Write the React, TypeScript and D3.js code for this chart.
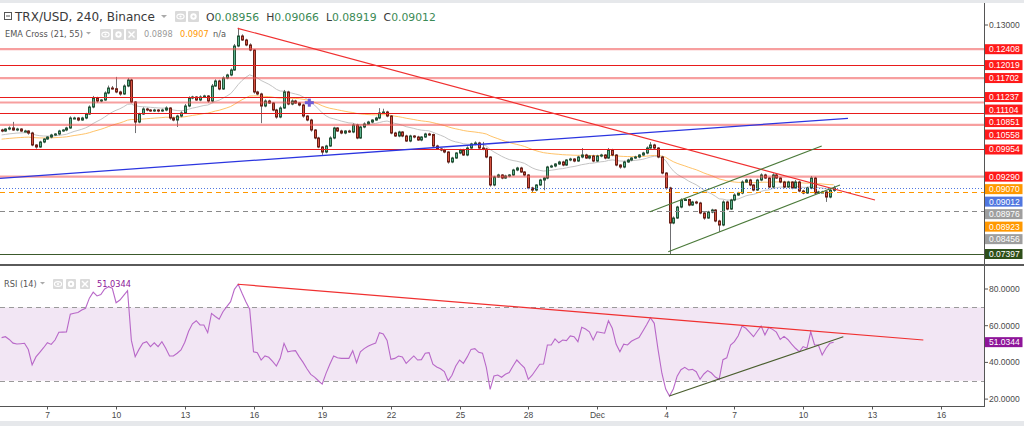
import React from "react";
import * as d3 from "d3";

// ---------------- data ----------------
const startTime = Date.UTC(2018, 10, 5, 0, 0); // first 4h bar (Nov 5)
const barHours = 4;
const firstOpen = 0.10431;

const closes = [
  0.10406, 0.10455, 0.1048, 0.10431, 0.10455, 0.10406, 0.10406, 0.10357, 0.10064, 0.10015,
  0.10137, 0.1021, 0.10259, 0.10308, 0.10333, 0.10406, 0.10431, 0.1048, 0.10724, 0.10724,
  0.10675, 0.10724, 0.10822, 0.10993, 0.11214, 0.1114, 0.11165, 0.11336, 0.11458, 0.1144,
  0.11361, 0.11312, 0.11507, 0.11654, 0.11116, 0.10626, 0.10822, 0.10945, 0.1092, 0.10896,
  0.1092, 0.10896, 0.1092, 0.10969, 0.10724, 0.10675, 0.10773, 0.10847, 0.11018, 0.11214,
  0.11238, 0.11165, 0.11238, 0.11263, 0.1114, 0.11507, 0.1163, 0.11434, 0.11703, 0.11777,
  0.11899, 0.12486, 0.12731, 0.12633, 0.12511, 0.12388, 0.11361, 0.11312, 0.11018, 0.1114,
  0.11091, 0.1092, 0.10749, 0.10969, 0.11361, 0.11067, 0.1114, 0.11091, 0.11042, 0.10773,
  0.10675, 0.10431, 0.10235, 0.10015, 0.09892, 0.10039, 0.10235, 0.1048, 0.10406, 0.10357,
  0.10406, 0.10382, 0.10553, 0.10235, 0.10504, 0.10577, 0.10626, 0.10675, 0.10724, 0.10847,
  0.10871, 0.10773, 0.10357, 0.10284, 0.10382, 0.10284, 0.10161, 0.10284, 0.10259, 0.10186,
  0.10259, 0.10333, 0.1032, 0.10039, 0.09966, 0.09941, 0.09892, 0.09648, 0.09745, 0.09868,
  0.09941, 0.09819, 0.0999, 0.10088, 0.10113, 0.0999, 0.09966, 0.0977, 0.09085, 0.09281,
  0.0933, 0.09256, 0.09305, 0.0933, 0.09452, 0.09501, 0.09403, 0.0933, 0.09012, 0.08962,
  0.09085, 0.09207, 0.09256, 0.09525, 0.0955, 0.09599, 0.09648, 0.09574, 0.09697, 0.09721,
  0.09672, 0.0977, 0.09819, 0.09745, 0.09794, 0.09672, 0.09794, 0.09819, 0.09745, 0.09941,
  0.09819, 0.09574, 0.09525, 0.09648, 0.09697, 0.09745, 0.0977, 0.09819, 0.09868, 0.0999,
  0.10064, 0.0999, 0.0977, 0.09378, 0.09012, 0.08155, 0.08277, 0.08546, 0.08718, 0.0873,
  0.08595, 0.08669, 0.08644, 0.084, 0.08277, 0.08424, 0.08473, 0.08204, 0.08106, 0.08669,
  0.08497, 0.08718, 0.0884, 0.08889, 0.09158, 0.09207, 0.09085, 0.08962, 0.09207, 0.0933,
  0.09256, 0.09036, 0.0933, 0.09256, 0.09158, 0.09036, 0.09158, 0.09012, 0.09158, 0.08938,
  0.08889, 0.09012, 0.09256, 0.08889, 0.08914, 0.08914, 0.08791, 0.08956, 0.09012,
];

// wick extents beyond the body, in units of 0.0001
const upperWick = [
  3, 2, 4, 15, 3, 2, 3, 2, 3, 2,
  3, 2, 2, 3, 2, 3, 2, 3, 4, 3,
  2, 3, 3, 4, 5, 3, 2, 4, 6, 5,
  29, 3, 4, 5, 3, 2, 3, 4, 3, 2,
  3, 2, 3, 4, 2, 3, 3, 4, 5, 4,
  3, 2, 4, 3, 2, 5, 4, 3, 4, 3,
  4, 5, 20, 4, 3, 4, 2, 3, 3, 4,
  3, 2, 3, 4, 5, 3, 4, 3, 2, 3,
  2, 3, 2, 3, 2, 3, 4, 3, 2, 3,
  2, 3, 4, 3, 3, 4, 3, 2, 3, 12,
  8, 3, 2, 3, 3, 2, 3, 3, 2, 3,
  2, 3, 3, 2, 3, 2, 3, 2, 3, 2,
  3, 3, 4, 3, 4, 3, 15, 3, 2, 3,
  3, 2, 3, 2, 3, 3, 3, 2, 2, 3,
  2, 3, 2, 3, 3, 2, 3, 3, 2, 3,
  2, 3, 17, 3, 2, 3, 3, 3, 2, 5,
  3, 2, 2, 3, 3, 2, 3, 2, 3, 4,
  7, 3, 2, 3, 2, 3, 4, 3, 4, 3,
  2, 3, 3, 3, 2, 3, 3, 2, 3, 4,
  3, 3, 4, 3, 4, 3, 3, 2, 3, 4,
  3, 2, 4, 3, 2, 3, 3, 2, 5, 3,
  3, 3, 5, 3, 3, 3, 2, 3, 5.4,
];
const lowerWick = [
  3, 2, 3, 2, 3, 2, 3, 4, 3, 4,
  2, 3, 2, 3, 2, 3, 2, 3, 2, 3,
  3, 2, 3, 2, 3, 4, 3, 2, 3, 2,
  3, 4, 2, 3, 3, 27, 3, 2, 3, 2,
  2, 3, 2, 3, 4, 3, 17, 3, 2, 3,
  3, 2, 3, 2, 4, 3, 2, 3, 2, 3,
  3, 2, 3, 2, 3, 3, 4, 3, 42, 3,
  2, 3, 4, 3, 2, 3, 3, 2, 3, 4,
  3, 4, 3, 3, 7, 3, 2, 3, 2, 3,
  3, 2, 3, 3, 2, 3, 2, 3, 2, 3,
  2, 3, 3, 2, 3, 3, 2, 3, 3, 2,
  3, 2, 3, 3, 2, 3, 3, 4, 3, 2,
  3, 2, 3, 2, 3, 2, 3, 3, 4, 3,
  2, 3, 2, 3, 2, 3, 2, 3, 3, 6,
  3, 2, 25, 3, 2, 3, 2, 3, 2, 3,
  3, 2, 3, 2, 3, 3, 2, 3, 3, 2,
  3, 3, 4, 3, 2, 3, 2, 3, 2, 3,
  2, 3, 3, 3, 4, 76, 3, 2, 3, 2,
  3, 2, 3, 3, 4, 2, 3, 3, 17, 3,
  3, 2, 3, 2, 3, 2, 3, 3, 2, 3,
  2, 3, 3, 2, 3, 3, 2, 3, 2, 3,
  3, 2, 3, 3, 2, 2, 12, 3, 3.7,
];

const rsi14 = [
  53.5, 54, 52.5, 50.5, 50, 50.2, 50.4, 47, 38.6, 43,
  45.5, 48, 50.7, 49.8, 52.2, 56.4, 56.5, 56.6, 66.3, 66.8,
  67.2, 68.5, 69.5, 75, 78.3, 76.2, 77, 80, 81.2, 80.4,
  72.5, 74, 76.5, 79.1, 52, 43.1, 47.1, 50.5, 51.3, 48.6,
  50.7, 48.6, 51.3, 47.7, 43.5, 43.5, 45, 46.8, 51, 57,
  61, 62.7, 60.4, 60.4, 56.2, 66.7, 65, 63.5, 67.6, 70.4,
  73.1, 79.8, 82.6, 77.7, 73.1, 69, 45.8, 45.3, 41.3, 43.5,
  42.8, 40.5, 38, 42.2, 50.4, 45.8, 46.2, 46.4, 43, 40,
  36.5, 33.5, 32, 30, 28.2, 34, 39, 43.5, 42.5, 42.2,
  42.2, 42.2, 46.4, 39.8, 45.8, 47.5, 48.8, 49.7, 50.5, 56.2,
  55.5, 52, 41.7, 42.2, 43.5, 43, 39.5, 41.5, 43.5, 41.3,
  41.5, 45, 45.3, 39, 37.5, 36.5, 35, 30, 33, 38,
  41.3, 39.5, 43, 47.1, 47.5, 45.5, 45, 37.3, 25.3, 32.6,
  33.1, 31.9, 33.5, 34.5, 38, 41.3, 39.1, 37, 30.8, 33,
  36, 39, 39.1, 49.5, 49.5, 52.8, 50.7, 52.2, 51.9, 54.4,
  54, 51.3, 59.1, 58.2, 56.7, 52.2, 56.7, 56.3, 55.9, 62.7,
  58.6, 50, 45.8, 49.9, 49.5, 51.5, 52.6, 53.5, 57, 60.5,
  64.3, 61.3, 47, 34.1, 25.5, 21.7, 25.5, 32.5, 36, 37.3,
  35.9, 36.2, 34.9, 30.8, 33.7, 35.5, 34.2, 32, 30.8, 41.5,
  42.5, 49.5, 51.3, 54.5, 59.8, 58.6, 56.4, 54, 57, 59.8,
  55, 59, 58, 56.5, 52.5, 54.2, 52.5, 50, 47.7, 45.8,
  48.6, 47.7, 56.7, 49.5, 49.5, 44, 47.7, 50.4, 51.0344,
];

const ema21Seed = 0.103;
const ema55Seed = 0.102;
const ema21Last = 0.08976;
const ema55Last = 0.0907;

const redLevels = [0.12019, 0.11237, 0.10851, 0.09954];
const pinkLevels = [0.12408, 0.11702, 0.11104, 0.10558, 0.0929];
const supportLevel = 0.07397;
const orangeDashLevel = 0.08923;
const greyDashLevel = 0.08456;

const priceTicks = [0.13];
const rsiTicks = [80, 60, 40, 20];
const rsiBand = [30, 70];
const dateTicks = [
  "2018-11-07", "2018-11-10", "2018-11-13", "2018-11-16", "2018-11-19", "2018-11-22", "2018-11-25",
  "2018-11-28", "2018-12-01", "2018-12-04", "2018-12-07", "2018-12-10", "2018-12-13", "2018-12-16",
];

const priceTrend = [{ t: "2018-11-15T07:25Z", v: 0.12919 }, { t: "2018-12-13T03:20Z", v: 0.08718 }];
const blueTrend = [{ t: "2018-11-04T22:20Z", v: 0.09249 }, { t: "2018-12-11T23:00Z", v: 0.10715 }];
const channelLow = [{ t: "2018-12-04T02:40Z", v: 0.07453 }, { t: "2018-12-11T14:40Z", v: 0.09085 }];
const channelHigh = [{ t: "2018-12-03T07:30Z", v: 0.08432 }, { t: "2018-12-10T19:30Z", v: 0.10039 }];
const rsiTrendHigh = [{ t: "2018-11-15T07:25Z", v: 82.6 }, { t: "2018-12-15T06:00Z", v: 52.2 }];
const rsiTrendLow = [{ t: "2018-12-04T03:50Z", v: 21.7 }, { t: "2018-12-11T18:10Z", v: 54 }];
const crossMark = { t: "2018-11-18T10:30Z", v: 0.11099 };

// ---------------- styling ----------------
const UP_FILL = "#5cb38f";
const UP_BORDER = "#225437";
const DN_FILL = "#d75442";
const DN_BORDER = "#6b1f16";
const WICK = "#6f6f72";
const RED = "#ff1a1a";
const ORANGE = "#ff9800";
const BLUE = "#5077e0";
const GREY = "#9e9e9e";
const DKGREEN = "#2e4f1a";
const PURPLE = "#8e1599";
const AX_FONT = "'Liberation Sans', Arial, sans-serif";
const LG_FONT = "'DejaVu Sans', Verdana, sans-serif";

const AXIS_X = 984.5;

function IconBox({ x, y, kind, s = 11 }: { x: number; y: number; kind: string; s?: number }) {
  const cx = x + s / 2;
  const cy = y + s / 2;
  return (
    <g>
      <rect x={x} y={y} width={s} height={s} rx={1} fill="#dadada" />
      {kind === "eye" && (
        <g>
          <ellipse cx={cx} cy={cy} rx={3.6} ry={2.4} fill="none" stroke="#fff" strokeWidth={1.1} />
          <circle cx={cx} cy={cy} r={1.1} fill="#fff" />
        </g>
      )}
      {kind === "gear" && (
        <g>
          <circle cx={cx} cy={cy} r={3.2} fill="#fff" />
          <circle cx={cx} cy={cy} r={1.2} fill="#dadada" />
        </g>
      )}
      {kind === "x" && (
        <g stroke="#fff" strokeWidth={1.4}>
          <line x1={cx - 3} y1={cy - 3} x2={cx + 3} y2={cy + 3} />
          <line x1={cx - 3} y1={cy + 3} x2={cx + 3} y2={cy - 3} />
        </g>
      )}
    </g>
  );
}

export default function App() {
  const times = closes.map((_, i) => new Date(startTime + i * barHours * 3600 * 1000));
  const x = d3
    .scaleUtc()
    .domain([new Date(Date.UTC(2018, 10, 5)), new Date(Date.UTC(2018, 11, 1))])
    .range([1.6, 597]);
  const y = d3.scaleLinear().domain([0.07397, 0.13]).range([254, 25]);
  const yr = d3.scaleLinear().domain([20, 80]).range([399.1, 289]);

  const opens = closes.map((c, i) => (i === 0 ? firstOpen : closes[i - 1]));

  const ema = (period: number, seed: number) => {
    const k = 2 / (period + 1);
    let e = seed;
    return closes.map((c) => (e = c * k + e * (1 - k)));
  };
  const ema21 = ema(21, ema21Seed);
  const ema55 = ema(55, ema55Seed);

  const pLine = d3
    .line<number>()
    .x((_, i) => x(times[i]))
    .y((d) => y(d));
  const rLine = d3
    .line<number>()
    .x((_, i) => x(times[i]))
    .y((d) => yr(d));

  const seg = (pts: { t: string; v: number }[], ys: (v: number) => number) => ({
    x1: x(new Date(pts[0].t)),
    y1: ys(pts[0].v),
    x2: x(new Date(pts[1].t)),
    y2: ys(pts[1].v),
  });

  const last = closes.length - 1;
  const lo = opens[last];
  const lc = closes[last];
  const lh = Math.max(lo, lc) + upperWick[last] * 1e-4;
  const ll = Math.min(lo, lc) - lowerWick[last] * 1e-4;
  const f5 = d3.format(".5f");
  const f4 = d3.format(".4f");

  // right axis labels with collision push-down
  const labels = [
    ...pinkLevels.map((v) => ({ v, bg: RED })),
    ...redLevels.map((v) => ({ v, bg: RED })),
    { v: ema55Last, bg: ORANGE },
    { v: lc, bg: BLUE },
    { v: ema21Last, bg: GREY },
    { v: orangeDashLevel, bg: ORANGE },
    { v: greyDashLevel, bg: GREY },
    { v: supportLevel, bg: DKGREEN },
  ]
    .map((d) => ({ ...d, y: y(d.v) }))
    .sort((a, b) => a.y - b.y);
  let prevY = -100;
  labels.forEach((l) => {
    l.y = Math.max(l.y, prevY + 12.5);
    prevY = l.y;
  });

  const dayFmt = (d: Date) => (d.getUTCDate() === 1 ? d3.utcFormat("%b")(d) : d3.utcFormat("%-d")(d));

  const cm = { x: x(new Date(crossMark.t)), y: y(crossMark.v) };
  const pt = seg(priceTrend, y);
  const bt = seg(blueTrend, y);
  const cl = seg(channelLow, y);
  const ch = seg(channelHigh, y);
  const rh = seg(rsiTrendHigh, yr);
  const rl = seg(rsiTrendLow, yr);

  return (
    <svg
      width={1024}
      height={426}
      style={{ position: "absolute", left: 0, top: 0, display: "block", background: "#fff" }}
    >
      <defs>
        <clipPath id="pclip">
          <rect x={0} y={4} width={984} height={259} />
        </clipPath>
        <clipPath id="rclip">
          <rect x={0} y={268} width={984} height={138} />
        </clipPath>
      </defs>

      {/* frame strips */}
      <rect x={0} y={0} width={1024} height={3} fill="#e6e8eb" />
      <rect x={0} y={421} width={1024} height={5} fill="#e6e8eb" />

      {/* ---------- price panel ---------- */}
      <g clipPath="url(#pclip)">
        <path d={pLine(ema55) || ""} fill="none" stroke="#ffb74d" strokeOpacity={0.85} strokeWidth={1} />
        <path d={pLine(ema21) || ""} fill="none" stroke="#c4c4c4" strokeWidth={1} />

        {closes.map((c, i) => {
          const o = opens[i];
          const hi = Math.max(o, c) + upperWick[i] * 1e-4;
          const lw = Math.min(o, c) - lowerWick[i] * 1e-4;
          const xc = Math.round(x(times[i]));
          const up = c >= o;
          const yTop = y(Math.max(o, c));
          const yBot = y(Math.min(o, c));
          return (
            <g key={i}>
              <line x1={xc + 0.5} x2={xc + 0.5} y1={y(hi)} y2={y(lw)} stroke={WICK} strokeWidth={1} />
              <rect
                x={xc - 0.5}
                y={yTop}
                width={2}
                height={Math.max(1, yBot - yTop)}
                fill={up ? UP_FILL : DN_FILL}
                stroke={up ? UP_BORDER : DN_BORDER}
                strokeWidth={1}
              />
            </g>
          );
        })}

        {pinkLevels.map((v, i) => (
          <line key={"p" + i} x1={0} x2={984} y1={y(v)} y2={y(v)} stroke="#f05050" strokeOpacity={0.55} strokeWidth={2.2} />
        ))}
        {redLevels.map((v, i) => (
          <line key={"r" + i} x1={0} x2={984} y1={Math.round(y(v)) + 0.5} y2={Math.round(y(v)) + 0.5} stroke="#e81b1b" strokeWidth={1} />
        ))}
        <line x1={0} x2={984} y1={Math.round(y(supportLevel)) + 0.5} y2={Math.round(y(supportLevel)) + 0.5} stroke="#3c5a2c" strokeWidth={1} />
        <line x1={0} x2={984} y1={Math.round(y(lc)) + 0.5} y2={Math.round(y(lc)) + 0.5} stroke={BLUE} strokeWidth={1} strokeDasharray="1,2" />
        <line x1={0} x2={984} y1={Math.round(y(orangeDashLevel)) + 0.5} y2={Math.round(y(orangeDashLevel)) + 0.5} stroke={ORANGE} strokeWidth={1} strokeDasharray="5,4" />
        <line x1={0} x2={984} y1={Math.round(y(greyDashLevel)) + 0.5} y2={Math.round(y(greyDashLevel)) + 0.5} stroke="#8a8a8a" strokeWidth={1} strokeDasharray="5,4" />

        <line {...bt} stroke="#2b35e0" strokeWidth={1.3} />
        <line {...pt} stroke="#f03030" strokeWidth={1.2} />
        <line {...cl} stroke="#4b7a3a" strokeWidth={1.2} />
        <line {...ch} stroke="#4b7a3a" strokeWidth={1.2} />

        <rect x={cm.x - 4.5} y={cm.y - 1.5} width={9} height={3} fill="#6f5bd6" />
        <rect x={cm.x - 1.5} y={cm.y - 4} width={3} height={8} fill="#6f5bd6" />
      </g>

      {/* panel separator */}
      <rect x={0} y={264} width={1024} height={2} fill="#5a5a5a" />

      {/* ---------- RSI panel ---------- */}
      <g clipPath="url(#rclip)">
        <rect x={0} y={yr(rsiBand[1])} width={984} height={yr(rsiBand[0]) - yr(rsiBand[1])} fill="#f2e6f4" />
        {rsiBand.map((v) => (
          <line key={v} x1={0} x2={984} y1={Math.round(yr(v)) + 0.5} y2={Math.round(yr(v)) + 0.5} stroke="#9a9a9a" strokeDasharray="5,4" />
        ))}
        <path d={rLine(rsi14) || ""} fill="none" stroke="#b868c8" strokeWidth={1.1} />
        <line {...rh} stroke="#f03030" strokeWidth={1.2} />
        <line {...rl} stroke="#4a5e2e" strokeWidth={1.2} />
      </g>

      {/* ---------- axes ---------- */}
      <line x1={AXIS_X} x2={AXIS_X} y1={3} y2={407} stroke="#555" strokeWidth={1} />
      <line x1={0} x2={AXIS_X} y1={406.5} y2={406.5} stroke="#555" strokeWidth={1} />

      {priceTicks.map((v) => (
        <g key={v}>
          <line x1={AXIS_X} x2={AXIS_X + 3.5} y1={y(v)} y2={y(v)} stroke="#555" />
          <text x={989} y={y(v) + 3} fontSize={8.5} fontFamily={AX_FONT} fill="#4a4a4a">
            {f5(v)}
          </text>
        </g>
      ))}
      {labels.map((l, i) => (
        <g key={i}>
          <line x1={AXIS_X} x2={AXIS_X + 3.5} y1={l.y} y2={l.y} stroke="#555" />
          <rect x={AXIS_X + 0.5} y={l.y - 5} width={37.5} height={10} fill={l.bg} />
          <text x={989} y={l.y + 3} fontSize={8.5} fontFamily={AX_FONT} fill="#fff">
            {f5(l.v)}
          </text>
        </g>
      ))}

      {rsiTicks.map((v) => (
        <g key={v}>
          <line x1={AXIS_X} x2={AXIS_X + 3.5} y1={yr(v)} y2={yr(v)} stroke="#555" />
          <text x={989} y={yr(v) + 3} fontSize={8.5} fontFamily={AX_FONT} fill="#4a4a4a">
            {f4(v)}
          </text>
        </g>
      ))}
      <g>
        <line x1={AXIS_X} x2={AXIS_X + 3.5} y1={yr(rsi14[last])} y2={yr(rsi14[last])} stroke="#555" />
        <rect x={AXIS_X + 0.5} y={yr(rsi14[last]) - 5} width={37.5} height={10} fill={PURPLE} />
        <text x={989} y={yr(rsi14[last]) + 3} fontSize={8.5} fontFamily={AX_FONT} fill="#fff">
          {f4(rsi14[last])}
        </text>
      </g>

      {dateTicks.map((s) => {
        const d = new Date(s + "T00:00Z");
        const xx = Math.round(x(d)) + 0.5;
        return (
          <g key={s}>
            <line x1={xx} x2={xx} y1={406.5} y2={409.5} stroke="#555" />
            <text x={xx} y={418} fontSize={8.5} fontFamily={AX_FONT} fill="#4a4a4a" textAnchor="middle">
              {dayFmt(d)}
            </text>
          </g>
        );
      })}

      {/* ---------- legends ---------- */}
      <g>
        <rect x={4.5} y={12.5} width={7} height={7} fill="none" stroke="#555" strokeWidth={1} />
        <line x1={6} x2={10} y1={16} y2={16} stroke="#555" strokeWidth={1} />
        <text x={15} y={21} fontSize={12} fontFamily={LG_FONT} fill="#3a3a3a">
          TRX/USD, 240, Binance
        </text>
        <path d="M161,15 L167,15 L164,18 Z" fill="#aaa" />
        <IconBox x={175} y={11} kind="eye" />
        <IconBox x={188} y={11} kind="gear" />
        <text x={206} y={21} fontSize={10.8} fontFamily={LG_FONT} fill="#3a3a3a" xmlSpace="preserve">
          <tspan>O</tspan>
          <tspan fill="#3b8a55">{f5(lo)}</tspan>
          <tspan dx={7}>H</tspan>
          <tspan fill="#3b8a55">{f5(lh)}</tspan>
          <tspan dx={7}>L</tspan>
          <tspan fill="#3b8a55">{f5(ll)}</tspan>
          <tspan dx={7}>C</tspan>
          <tspan fill="#3b8a55">{f5(lc)}</tspan>
        </text>
      </g>
      <g>
        <text x={5} y={37} fontSize={8.2} fontFamily={LG_FONT} fill="#555">
          EMA Cross (21, 55)
        </text>
        <path d="M86,32 L91,32 L88.5,34.5 Z" fill="#aaa" />
        <IconBox x={100} y={29} kind="eye" />
        <IconBox x={113} y={29} kind="gear" />
        <IconBox x={126} y={29} kind="x" />
        <text x={144} y={37} fontSize={8.2} fontFamily={LG_FONT} fill="#9a9a9a">
          {f4(ema21Last)}
        </text>
        <text x={180} y={37} fontSize={8.2} fontFamily={LG_FONT} fill={ORANGE}>
          {f4(ema55Last)}
        </text>
        <text x={213} y={37} fontSize={8.2} fontFamily={LG_FONT} fill="#555">
          n/a
        </text>
      </g>
      <g>
        <text x={4} y={287} fontSize={8.2} fontFamily={LG_FONT} fill="#555">
          RSI (14)
        </text>
        <path d="M40,282 L45,282 L42.5,284.5 Z" fill="#aaa" />
        <IconBox x={53} y={279} kind="eye" s={10} />
        <IconBox x={66} y={279} kind="gear" s={10} />
        <IconBox x={80} y={279} kind="x" s={10} />
        <text x={97} y={287} fontSize={8.2} fontFamily={LG_FONT} fill={PURPLE}>
          {f4(rsi14[last])}
        </text>
      </g>
    </svg>
  );
}
